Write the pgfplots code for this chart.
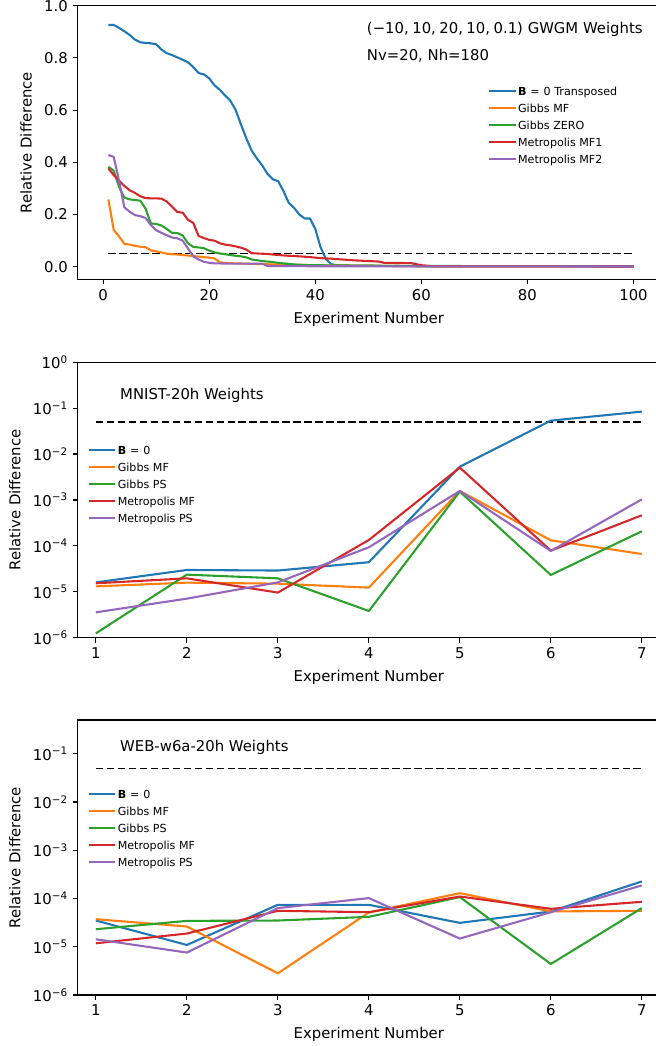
\documentclass[border=0pt]{standalone}
\usepackage{fontspec}
\setmainfont{DejaVu Sans}
\usepackage{pgfplots}
\pgfplotsset{compat=1.18}
\definecolor{c1}{HTML}{1F77B4}
\definecolor{c2}{HTML}{FF7F0E}
\definecolor{c3}{HTML}{2CA02C}
\definecolor{c4}{HTML}{D62728}
\definecolor{c5}{HTML}{9467BD}
\newcommand{\ft}{\fontsize{10.7}{12.8}\selectfont}
\pgfplotsset{common/.style={
  scale only axis, width=419.3pt,
  xlabel={Experiment Number}, ylabel={Relative Difference},
  xlabel style={yshift=-1.5pt}, ylabel style={yshift=2pt},
  axis line style={line width=0.8pt},
  every tick/.style={line width=0.8pt, black},
  tick align=outside, major tick length=3.5pt, minor tick length=2pt,
  tick pos=left,
  every tick label/.append style={font=\ft},
  label style={font=\ft},
  /pgf/number format/assume math mode=true,
  every axis plot/.append style={line width=1.5pt, line join=round},
  legend cell align=left,
  legend image code/.code={\draw[##1] (0pt,2.7pt) -- (19pt,2.7pt);},
  legend style={draw=none, fill=none, anchor=north west, inner sep=0pt,
    font=\fontsize{8}{10}\selectfont, row sep=0pt,
    nodes={inner sep=1pt, text height=5.3pt, text depth=4.9pt}},
}}
\begin{document}
\begin{tikzpicture}
\path[use as bounding box] (0,0) rectangle (471.6pt,753.1pt);
% ---------- top ----------
\begin{axis}[common, at={(55.9pt,552.0pt)}, anchor=south west, height=197.0pt,
  xmin=-4.8, xmax=105, ymin=-0.048, ymax=1.0,
  xtick={0,20,40,60,80,100}, ytick={0,0.2,0.4,0.6,0.8,1.0},
  yticklabel style={/pgf/number format/fixed, /pgf/number format/fixed zerofill, /pgf/number format/precision=1},
  legend style={at={(axis description cs:0.7046,0.7056)}}]
\addplot[black, dashed, line width=0.9pt, dash pattern=on 5.5pt off 2.4pt, forget plot] coordinates {(1,0.05)(100,0.05)};
\addplot[c1] coordinates {(1,0.926)(2,0.926)(3,0.915)(4,0.902)(5,0.888)(6,0.870)(7,0.860)(8,0.857)(9,0.856)(10,0.852)(11,0.832)(12,0.818)(13,0.811)(14,0.802)(15,0.793)(16,0.783)(17,0.765)(18,0.742)(19,0.737)(20,0.722)(21,0.695)(22,0.678)(23,0.656)(24,0.636)(25,0.600)(26,0.545)(27,0.492)(28,0.445)(29,0.415)(30,0.388)(31,0.356)(32,0.335)(33,0.328)(34,0.290)(35,0.245)(36,0.226)(37,0.200)(38,0.185)(39,0.185)(40,0.145)(41,0.075)(42,0.030)(43,0.010)(44,0.006)(45,0.005)(50,0.004)(60,0.002)(100,0.001)};
\addlegendentry{{\bfseries B}\kern2.8pt=\kern2.8pt0 Transposed}
\addplot[c2] coordinates {(1,0.258)(2,0.141)(3,0.116)(4,0.088)(5,0.085)(6,0.080)(7,0.077)(8,0.075)(9,0.063)(10,0.059)(11,0.055)(12,0.050)(13,0.048)(14,0.047)(15,0.045)(16,0.043)(17,0.041)(18,0.039)(19,0.037)(20,0.035)(21,0.032)(22,0.017)(23,0.015)(25,0.013)(30,0.010)(35,0.008)(40,0.006)(45,0.005)(50,0.004)(60,0.002)(100,0.001)};
\addlegendentry{Gibbs MF}
\addplot[c3] coordinates {(1,0.383)(2,0.368)(3,0.307)(4,0.265)(5,0.258)(6,0.256)(7,0.253)(8,0.223)(9,0.166)(10,0.164)(11,0.158)(12,0.145)(13,0.130)(14,0.129)(15,0.120)(16,0.090)(17,0.076)(18,0.074)(19,0.071)(20,0.062)(21,0.055)(22,0.051)(23,0.048)(24,0.045)(25,0.042)(26,0.040)(27,0.036)(28,0.028)(29,0.025)(30,0.022)(31,0.020)(32,0.018)(33,0.015)(34,0.013)(35,0.011)(36,0.009)(37,0.008)(38,0.007)(40,0.006)(45,0.005)(50,0.004)(60,0.003)(100,0.002)};
\addlegendentry{Gibbs ZERO}
\addplot[c4] coordinates {(1,0.377)(2,0.351)(3,0.330)(4,0.310)(5,0.293)(6,0.283)(7,0.270)(8,0.263)(9,0.262)(10,0.262)(11,0.261)(12,0.250)(13,0.230)(14,0.210)(15,0.207)(16,0.180)(17,0.168)(18,0.118)(19,0.110)(20,0.103)(21,0.100)(22,0.090)(23,0.085)(24,0.082)(25,0.078)(26,0.073)(27,0.066)(28,0.052)(29,0.051)(30,0.050)(31,0.049)(32,0.047)(33,0.045)(35,0.042)(37,0.040)(39,0.037)(41,0.033)(43,0.031)(45,0.028)(47,0.025)(50,0.022)(52,0.020)(53,0.015)(58,0.014)(60,0.006)(62,0.002)(100,0.001)};
\addlegendentry{Metropolis MF1}
\addplot[c5] coordinates {(1,0.428)(2,0.421)(3,0.330)(4,0.228)(5,0.211)(6,0.198)(7,0.194)(8,0.187)(9,0.160)(10,0.140)(11,0.130)(12,0.121)(13,0.112)(14,0.109)(15,0.100)(16,0.070)(17,0.040)(18,0.028)(19,0.019)(20,0.015)(21,0.013)(25,0.012)(30,0.012)(31,0.003)(40,0.002)(100,0.001)};
\addlegendentry{Metropolis MF2}
\node[anchor=west, inner sep=0pt, font=\ft] at (axis description cs:0.4963,0.9148) {(−10,\kern2.5pt 10,\kern2.5pt 20,\kern2.5pt 10,\kern2.5pt 0.1) GWGM Weights};
\node[anchor=west, inner sep=0pt, font=\ft] at (axis description cs:0.4963,0.8165) {Nv=20, Nh=180};
\end{axis}
% ---------- middle ----------
\begin{axis}[common, at={(55.9pt,294.0pt)}, anchor=south west, height=198.3pt,
  ymode=log, log basis y=10,
  xmin=0.8, xmax=7.2, ymin=1e-6, ymax=1,
  xtick={1,2,3,4,5,6,7}, ytick={1e-6,1e-5,1e-4,1e-3,1e-2,1e-1,1},
  yticklabels={10\textsuperscript{−6},10\textsuperscript{−5},10\textsuperscript{−4},10\textsuperscript{−3},10\textsuperscript{−2},10\textsuperscript{−1},10\textsuperscript{0}},
  legend style={at={(axis description cs:0.0172,0.6988)}}]
\addplot[black, dashed, line width=0.9pt, dash pattern=on 5.5pt off 2.4pt, forget plot] coordinates {(1,0.05)(7,0.05)};
\addplot[c1] coordinates {(1,1.6e-5)(2,2.98e-5)(3,2.9e-5)(4,4.4e-5)(5,5.3e-3)(6,0.0535)(7,0.084)};
\addlegendentry{{\bfseries B}\kern2.8pt=\kern2.8pt0}
\addplot[c2] coordinates {(1,1.31e-5)(2,1.58e-5)(3,1.5e-5)(4,1.23e-5)(5,1.57e-3)(6,1.32e-4)(7,6.65e-5)};
\addlegendentry{Gibbs MF}
\addplot[c3] coordinates {(1,1.24e-6)(2,2.36e-5)(3,1.96e-5)(4,3.81e-6)(5,1.52e-3)(6,2.32e-5)(7,2.08e-4)};
\addlegendentry{Gibbs PS}
\addplot[c4] coordinates {(1,1.53e-5)(2,1.96e-5)(3,9.6e-6)(4,1.34e-4)(5,5.07e-3)(6,7.87e-5)(7,4.63e-4)};
\addlegendentry{Metropolis MF}
\addplot[c5] coordinates {(1,3.56e-6)(2,7.08e-6)(3,1.6e-5)(4,9.3e-5)(5,1.57e-3)(6,7.74e-5)(7,1.03e-3)};
\addlegendentry{Metropolis PS}
\node[anchor=west, inner sep=0pt, font=\ft] at (axis description cs:0.0726,0.8787) {MNIST-20h Weights};
\end{axis}
% ---------- bottom ----------
\begin{axis}[common, at={(55.9pt,36.7pt)}, anchor=south west, height=198.0pt,
  ymode=log, log basis y=10,
  xmin=0.8, xmax=7.2, ymin=1e-6, ymax=0.5,
  xtick={1,2,3,4,5,6,7}, ytick={1e-6,1e-5,1e-4,1e-3,1e-2,1e-1},
  yticklabels={10\textsuperscript{−6},10\textsuperscript{−5},10\textsuperscript{−4},10\textsuperscript{−3},10\textsuperscript{−2},10\textsuperscript{−1}},
  legend style={at={(axis description cs:0.0172,0.7482)}}]
\addplot[black, dashed, line width=0.9pt, dash pattern=on 5.5pt off 2.4pt, forget plot] coordinates {(1,0.05)(7,0.05)};
\addplot[c1] coordinates {(1,3.5e-5)(2,1.09e-5)(3,7.41e-5)(4,7.4e-5)(5,3.13e-5)(6,5.38e-5)(7,2.26e-4)};
\addlegendentry{{\bfseries B}\kern2.8pt=\kern2.8pt0}
\addplot[c2] coordinates {(1,3.73e-5)(2,2.63e-5)(3,2.82e-6)(4,5.13e-5)(5,1.29e-4)(6,5.4e-5)(7,5.56e-5)};
\addlegendentry{Gibbs MF}
\addplot[c3] coordinates {(1,2.31e-5)(2,3.44e-5)(3,3.5e-5)(4,4.17e-5)(5,1.07e-4)(6,4.4e-6)(7,6.32e-5)};
\addlegendentry{Gibbs PS}
\addplot[c4] coordinates {(1,1.18e-5)(2,1.88e-5)(3,5.56e-5)(4,5.21e-5)(5,1.1e-4)(6,6.12e-5)(7,8.55e-5)};
\addlegendentry{Metropolis MF}
\addplot[c5] coordinates {(1,1.43e-5)(2,7.59e-6)(3,6.32e-5)(4,1.02e-4)(5,1.48e-5)(6,5.2e-5)(7,1.87e-4)};
\addlegendentry{Metropolis PS}
\node[anchor=west, inner sep=0pt, font=\ft] at (axis description cs:0.0726,0.9018) {WEB-w6a-20h Weights};
\end{axis}
\end{tikzpicture}
\end{document}
